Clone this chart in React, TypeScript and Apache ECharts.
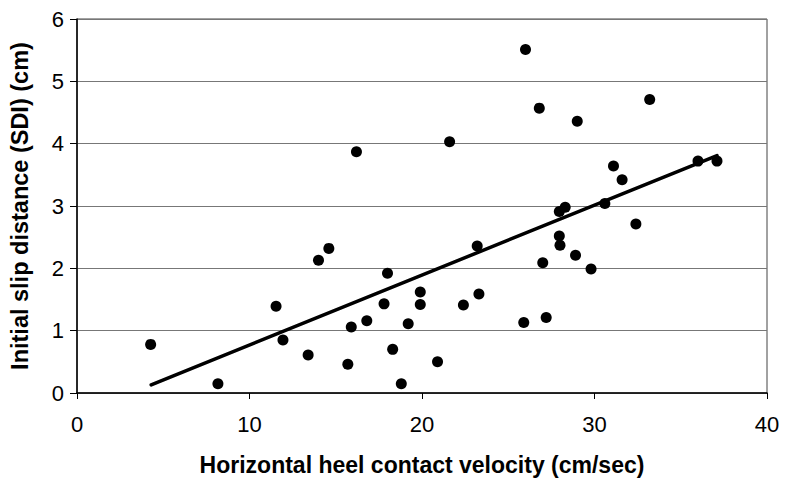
import React, { useEffect, useRef } from "react";
import * as echarts from "echarts";

const velocity: number[] = [
  4.27, 8.17, 11.54, 11.94, 13.4, 14.0, 14.6, 15.7, 15.9, 16.2, 16.8, 17.8, 18.0, 18.3,
  18.8, 19.2, 19.9, 19.9, 20.9, 21.6, 22.4, 23.2, 23.3, 26.0, 25.9, 26.8, 27.0, 27.2,
  27.96, 27.96, 28.0, 28.3, 28.9, 29.0, 29.8, 30.6, 31.1, 31.6, 32.4, 33.2, 36.0, 37.1,
];
const slipDistance: number[] = [
  0.78, 0.15, 1.39, 0.85, 0.61, 2.13, 2.32, 0.46, 1.06, 3.87, 1.16, 1.43, 1.92, 0.7,
  0.15, 1.11, 1.62, 1.42, 0.5, 4.03, 1.41, 2.36, 1.59, 5.51, 1.13, 4.57, 2.09, 1.21,
  2.91, 2.52, 2.37, 2.98, 2.21, 4.36, 1.99, 3.04, 3.64, 3.42, 2.71, 4.71, 3.72, 3.72,
];
const trendX: number[] = [4.3, 37.1];
const trendY: number[] = [0.13, 3.81];

const xTitle = "Horizontal heel contact velocity (cm/sec)";
const yTitle = "Initial slip distance (SDI) (cm)";

export default function App() {
  const ref = useRef<HTMLDivElement>(null);
  useEffect(() => {
    if (!ref.current) return;
    const chart = echarts.init(ref.current, null, { renderer: "svg" });
    const tickFont = "'Liberation Sans Narrow', 'Liberation Sans', Arial, sans-serif";
    chart.setOption({
      animation: false,
      backgroundColor: "#fff",
      grid: {
        left: 77,
        right: 18,
        top: 19,
        bottom: 90,
        show: true,
        borderColor: "#444",
        borderWidth: 1,
        backgroundColor: "transparent",
      },
      xAxis: {
        type: "value",
        min: 0,
        max: 40,
        interval: 10,
        name: xTitle,
        nameLocation: "middle",
        nameGap: 60,
        nameTextStyle: {
          fontFamily: "'Liberation Sans', Arial, sans-serif",
          fontWeight: "bold",
          fontSize: 23,
          color: "#000",
        },
        axisLine: { show: true, lineStyle: { color: "#000", width: 1.5 } },
        axisTick: { show: true, length: 6, lineStyle: { color: "#000" } },
        axisLabel: { fontFamily: tickFont, fontSize: 22, color: "#000", margin: 20 },
        splitLine: { show: false },
      },
      yAxis: {
        type: "value",
        min: 0,
        max: 6,
        interval: 1,
        name: yTitle,
        nameLocation: "middle",
        nameGap: 45,
        nameRotate: 90,
        nameTextStyle: {
          fontFamily: "'Liberation Sans', Arial, sans-serif",
          fontWeight: "bold",
          fontSize: 23.5,
          color: "#000",
        },
        axisLine: { show: true, lineStyle: { color: "#000", width: 1.5 } },
        axisTick: { show: true, length: 7, lineStyle: { color: "#000" } },
        axisLabel: { fontFamily: tickFont, fontSize: 22, color: "#000", margin: 13 },
        splitLine: { show: true, lineStyle: { color: "#777", width: 1 } },
      },
      series: [
        {
          type: "scatter",
          data: velocity.map((v, i) => [v, slipDistance[i]]),
          symbol: "circle",
          symbolSize: 11,
          itemStyle: { color: "#000", opacity: 1 },
          z: 3,
        },
        {
          type: "line",
          data: trendX.map((v, i) => [v, trendY[i]]),
          showSymbol: false,
          symbol: "none",
          lineStyle: { color: "#000", width: 3.5, cap: "round" },
          z: 4,
        },
      ],
    });
    return () => chart.dispose();
  }, []);
  return <div ref={ref} style={{ width: 785, height: 483, position: "absolute", left: 0, top: 0 }} />;
}
